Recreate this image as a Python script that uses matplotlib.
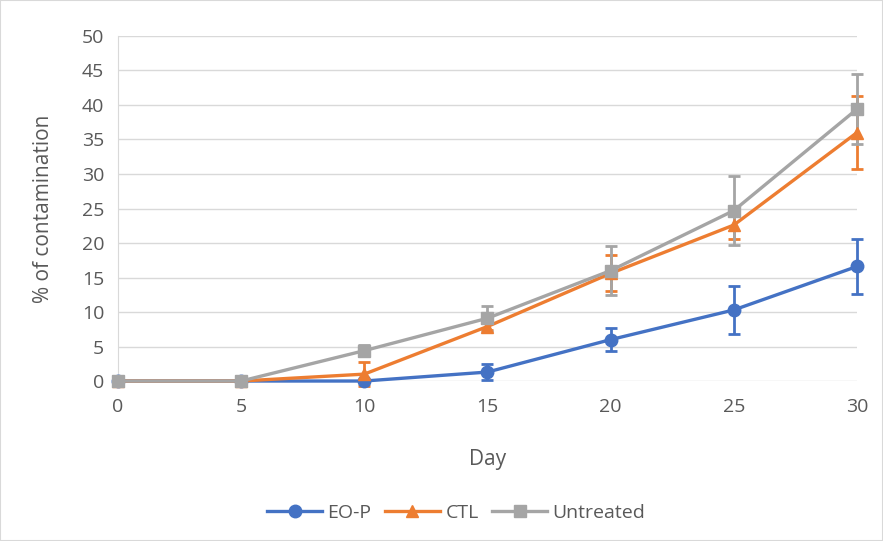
import numpy as np
import matplotlib.pyplot as plt
from matplotlib.lines import Line2D
from matplotlib.patches import Rectangle

plt.rcParams['font.family'] = ['Open Sans', 'DejaVu Sans']

days = [0, 5, 10, 15, 20, 25, 30]

eop = [0, 0, 0, 1.3, 6.0, 10.3, 16.6]
eop_err = [0, 0, 0, 1.1, 1.7, 3.5, 4.0]

ctl = [0, 0, 1.0, 7.9, 15.6, 22.6, 36.0]
ctl_err = [0, 0, 1.7, 0.5, 2.6, 2.0, 5.3]

untreated = [0, 0, 4.4, 9.1, 16.0, 24.7, 39.4]
untreated_err = [0, 0, 0.8, 1.8, 3.6, 5.0, 5.1]

series = [
    ('EO-P', eop, eop_err, '#4472c4', 'o'),
    ('CTL', ctl, ctl_err, '#ed7d31', '^'),
    ('Untreated', untreated, untreated_err, '#a5a5a5', 's'),
]

text_col = '#595959'

fig = plt.figure(figsize=(8.83, 5.41), dpi=100)
ax = fig.add_axes([0.1336, 0.2957, 0.8369, 0.6378])

handles = []
for name, vals, err, col, mk in series:
    ax.errorbar(days, vals, yerr=err, color=col, marker=mk, markersize=9,
                linewidth=2.4, elinewidth=2, capsize=4, capthick=2,
                clip_on=False, zorder=3)
    handles.append(Line2D([], [], color=col, marker=mk, markersize=9,
                          linewidth=2.4, label=name))

ax.set_xlim(0, 30)
ax.set_ylim(0, 50)
ax.set_xticks(days)
ax.set_yticks(np.arange(0, 51, 5))
ax.grid(axis='y', color='#d9d9d9', linewidth=1)
ax.set_axisbelow(True)
for side in ['top', 'right', 'bottom']:
    ax.spines[side].set_visible(False)
ax.spines['left'].set_color('#d9d9d9')
ax.tick_params(length=0, labelsize=14, colors=text_col, pad=10)
ax.tick_params(axis='x', pad=12)

ax.set_xlabel('Day', fontsize=15, color=text_col, labelpad=24)
ax.set_ylabel('% of contamination', fontsize=15, color=text_col, labelpad=20)

ax.legend(handles=handles, loc='upper center', bbox_to_anchor=(0.458, -0.305),
          ncol=3, frameon=False, fontsize=14, labelcolor=text_col,
          handlelength=2.8, columnspacing=0.7, handletextpad=0.3)

fig.patches.append(Rectangle((0, 0), 1, 1, transform=fig.transFigure,
                             fill=False, edgecolor='#d9d9d9', linewidth=1.5))

fig.savefig('out.png', dpi=100)
